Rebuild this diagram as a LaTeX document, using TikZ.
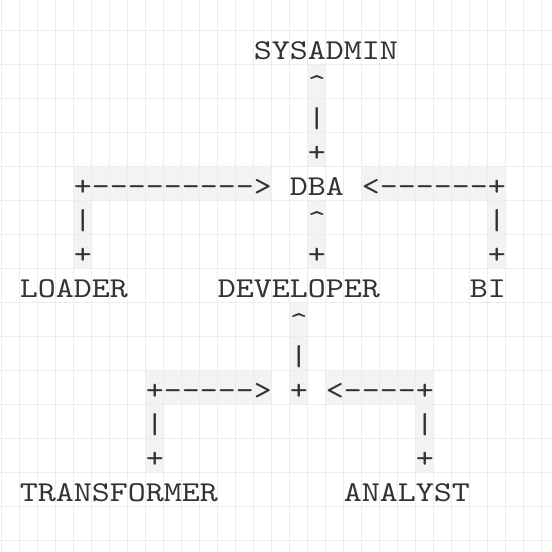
\documentclass[tikz,border=0pt]{standalone}
\usepackage{fontspec}
\newfontfamily\asciifont{lmmono10-regular.otf}[FakeStretch=1.1905]
\definecolor{gridgray}{HTML}{EDEDED}
\definecolor{markgray}{HTML}{F3F3F3}
\definecolor{inkgray}{HTML}{333333}
\tikzset{
  ascii/.style={font=\asciifont\fontsize{14.4pt}{17pt}\selectfont, text=inkgray, inner sep=0pt, anchor=base west},
  cellmark/.style={fill=markgray},
  gridline/.style={draw=gridgray, line width=0.6pt}
}
\begin{document}
\begin{tikzpicture}[x=9pt, y=-17pt]
    \useasboundingbox (-1.083, -1.744) rectangle (29.583, 14.491);
    % marked cells
    \fill[cellmark] (16, 0.159) rectangle (17, 3.159);
    \fill[cellmark] (3, 3.159) rectangle (14, 4.159);
    \fill[cellmark] (3, 4.159) rectangle (4, 6.159);
    \fill[cellmark] (19, 3.159) rectangle (27, 4.159);
    \fill[cellmark] (16, 4.159) rectangle (17, 6.159);
    \fill[cellmark] (26, 4.159) rectangle (27, 6.159);
    \fill[cellmark] (15, 7.159) rectangle (16, 10.159);
    \fill[cellmark] (7, 9.159) rectangle (14, 10.159);
    \fill[cellmark] (7, 10.159) rectangle (8, 12.159);
    \fill[cellmark] (17, 9.159) rectangle (23, 10.159);
    \fill[cellmark] (22, 10.159) rectangle (23, 12.159);
    % grid
    \foreach \i in {-1,...,29} \draw[gridline] (\i, -1.744) -- (\i, 14.491);
    \foreach \j in {0,...,15} \draw[gridline] (-1.083, \j-0.841) -- (29.583, \j-0.841);
    % top
    \node[ascii] (sysadmin) at (13, 0) {SYSADMIN};
    \node[ascii] (dbaup) at (16, 1) {\textasciicircum};
    \node[ascii] (dbabar) at (16, 2) {\textbar};
    \node[ascii] (dbaplus) at (16, 3) {+};
    % dba row
    \node[ascii] (loaderarr) at (3, 4) {+--------->};
    \node[ascii] (dba) at (15, 4) {DBA};
    \node[ascii] (biarr) at (19, 4) {<------+};
    \node[ascii] (loaderbar) at (3, 5) {\textbar};
    \node[ascii] (devup) at (16, 5) {\textasciicircum};
    \node[ascii] (bibar) at (26, 5) {\textbar};
    \node[ascii] (loaderplus) at (3, 6) {+};
    \node[ascii] (devplus) at (16, 6) {+};
    \node[ascii] (biplus) at (26, 6) {+};
    % middle row
    \node[ascii] (loader) at (0, 7) {LOADER};
    \node[ascii] (developer) at (11, 7) {DEVELOPER};
    \node[ascii] (bi) at (25, 7) {BI};
    \node[ascii] (joinup) at (15, 8) {\textasciicircum};
    \node[ascii] (joinbar) at (15, 9) {\textbar};
    \node[ascii] (transarr) at (7, 10) {+----->};
    \node[ascii] (join) at (15, 10) {+};
    \node[ascii] (analystarr) at (17, 10) {<----+};
    \node[ascii] (transbar) at (7, 11) {\textbar};
    \node[ascii] (analystbar) at (22, 11) {\textbar};
    \node[ascii] (transplus) at (7, 12) {+};
    \node[ascii] (analystplus) at (22, 12) {+};
    % bottom row
    \node[ascii] (transformer) at (0, 13) {TRANSFORMER};
    \node[ascii] (analyst) at (18, 13) {ANALYST};
\end{tikzpicture}
\end{document}
